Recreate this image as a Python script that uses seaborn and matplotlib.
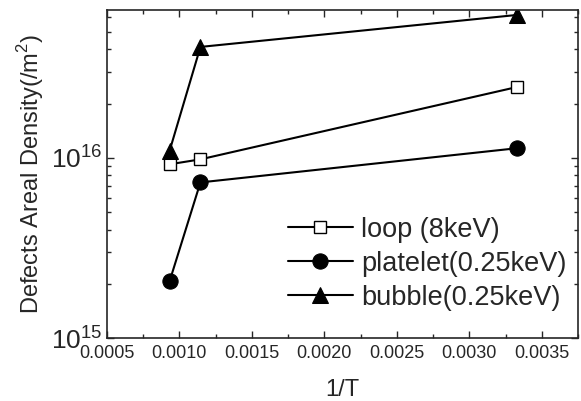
import matplotlib
matplotlib.use("Agg")
import matplotlib.pyplot as plt
import matplotlib.ticker as mticker
import numpy as np
import pandas as pd
import seaborn as sns

sns.set_style("ticks")
plt.rcParams['font.family'] = ['Liberation Sans', 'DejaVu Sans']
plt.rcParams['mathtext.fontset'] = 'custom'
plt.rcParams['mathtext.rm'] = 'Liberation Sans'

inv_T = [0.000932, 0.001145, 0.00333]
loop = [9.2e15, 9.8e15, 2.47e16]
platelet = [2.06e15, 7.3e15, 1.13e16]
bubble = [1.09e16, 4.12e16, 6.2e16]
series_names = ["loop (8keV)", "platelet(0.25keV)", "bubble(0.25keV)"]

fig = plt.figure(figsize=(5.81, 4.01), dpi=100)
ax = fig.add_axes([0.184, 0.157, 0.811, 0.818])

styles = [
    dict(marker="s", markersize=9, markerfacecolor="white", markeredgecolor="black", markeredgewidth=1.0),
    dict(marker="o", markersize=11, markerfacecolor="black", markeredgecolor="black"),
    dict(marker="^", markersize=11, markerfacecolor="black", markeredgecolor="black"),
]
for name, vals, st in zip(series_names, [loop, platelet, bubble], styles):
    df = pd.DataFrame({"x": inv_T, "y": vals})
    sns.lineplot(data=df, x="x", y="y", ax=ax, color="black", linewidth=1.5,
                 label=name, **st)

ax.set_yscale("log")
ax.set_xlim(0.0005, 0.00375)
ax.set_ylim(1e15, 6.6e16)
ax.xaxis.set_major_locator(mticker.MultipleLocator(0.0005))
ax.xaxis.set_minor_locator(mticker.MultipleLocator(0.00025))
ax.xaxis.set_major_formatter(mticker.FormatStrFormatter("%.4f"))
ax.yaxis.set_major_locator(mticker.LogLocator(base=10, numticks=10))
ax.yaxis.set_minor_locator(mticker.LogLocator(base=10, subs=np.arange(2, 10), numticks=20))
ax.yaxis.set_minor_formatter(mticker.NullFormatter())

ax.tick_params(which="both", direction="in", top=True, right=True, width=1.0)
ax.tick_params(which="major", length=5)
ax.tick_params(which="minor", length=3)
ax.tick_params(axis="x", labelsize=13, pad=5)
ax.tick_params(axis="y", labelsize=19, pad=3)
for s in ax.spines.values():
    s.set_linewidth(1.2)

ax.set_xlabel("1/T", fontsize=17, labelpad=12)
ax.set_ylabel("Defects Areal Density(/m$^2$)", fontsize=17, labelpad=4)

leg = ax.legend(loc="lower right", bbox_to_anchor=(0.998, 0.05), borderaxespad=0,
                frameon=False, fontsize=19.5, handlelength=2.4,
                handletextpad=0.3, labelspacing=0.3)

fig.savefig("out.png", dpi=100)
